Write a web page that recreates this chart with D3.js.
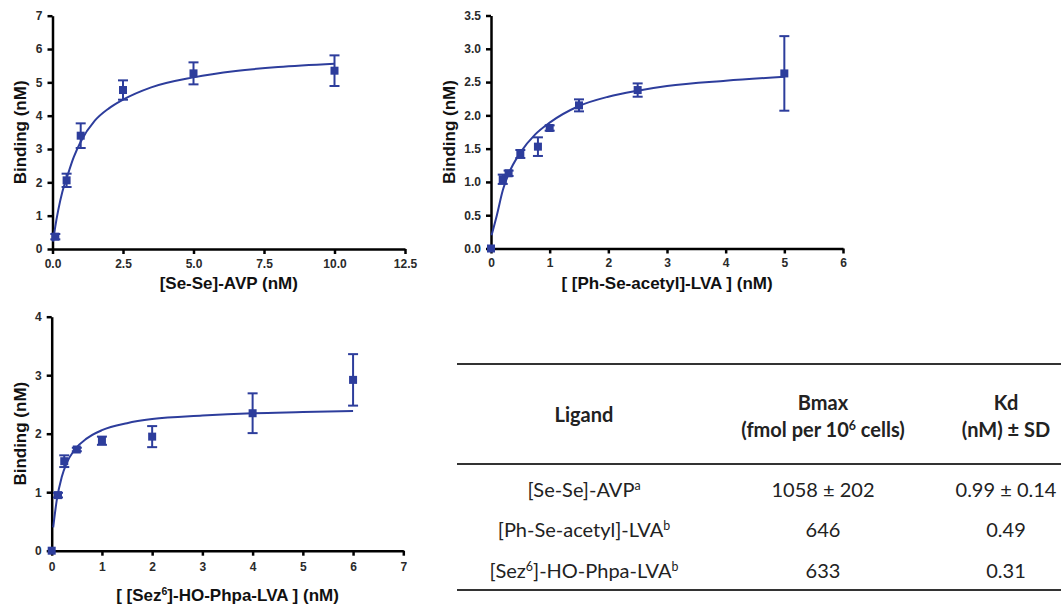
<!DOCTYPE html>
<html>
<head>
<meta charset="utf-8">
<script src="https://cdn.jsdelivr.net/npm/d3@7"></script>
<style>
  body { margin: 0; background: #fff; }
  svg { display: block; }
  .tick text { font-family: "Liberation Sans", Arial, sans-serif; font-weight: bold; font-size: 12px; fill: #2a2a2a; }
  .axis-title { font-family: "Liberation Sans", Arial, sans-serif; font-weight: bold; font-size: 17px; fill: #111; }
  .tbl { font-family: Lato, "Open Sans", sans-serif; font-size: 20px; fill: #222; }
  .tbl.head { font-weight: bold; }
</style>
</head>
<body>
<div id="chart"></div>
<script>
// panel 1: [Se-Se]-AVP
const seX = [0.1, 0.5, 1, 2.5, 5, 10];
const seY = [0.37, 2.06, 3.4, 4.77, 5.27, 5.35];
const seSd = [0.08, 0.2, 0.37, 0.29, 0.33, 0.46];
const seFitX = [0.02, 0.1, 0.2, 0.35, 0.5, 0.75, 1, 1.5, 2, 2.5, 3.5, 5, 6.5, 8, 10];
const seFitY = [0.22, 0.68, 1.15, 1.72, 2.12, 2.75, 3.22, 3.85, 4.22, 4.48, 4.85, 5.15, 5.34, 5.46, 5.56];
const seXTicks = [0, 2.5, 5, 7.5, 10, 12.5];
const seYTicks = [0, 1, 2, 3, 4, 5, 6, 7];

// panel 2: [Ph-Se-acetyl]-LVA
const phX = [0, 0.2, 0.3, 0.5, 0.8, 1, 1.5, 2.5, 5];
const phY = [0, 1.04, 1.13, 1.42, 1.53, 1.81, 2.15, 2.38, 2.63];
const phSd = [0, 0.07, 0.04, 0.06, 0.14, 0.04, 0.09, 0.1, 0.56];
const phFitX = [0.01, 0.1, 0.2, 0.3, 0.5, 0.75, 1, 1.5, 2, 2.5, 3, 4, 5];
const phFitY = [0.2, 0.5, 0.87, 1.12, 1.44, 1.71, 1.89, 2.14, 2.28, 2.37, 2.44, 2.52, 2.58];
const phXTicks = [0, 1, 2, 3, 4, 5, 6];
const phYTicks = [0, 0.5, 1, 1.5, 2, 2.5, 3, 3.5];

// panel 3: [Sez6]-HO-Phpa-LVA
const szX = [0, 0.125, 0.25, 0.5, 1, 2, 4, 6];
const szY = [0, 0.95, 1.53, 1.73, 1.88, 1.95, 2.35, 2.92];
const szSd = [0, 0.04, 0.1, 0.03, 0.07, 0.18, 0.34, 0.44];
const szFitX = [0.03, 0.1, 0.2, 0.3, 0.45, 0.7, 1, 1.5, 2, 3, 4, 5, 6];
const szFitY = [0.4, 0.86, 1.26, 1.5, 1.72, 1.92, 2.06, 2.18, 2.25, 2.31, 2.35, 2.37, 2.39];
const szXTicks = [0, 1, 2, 3, 4, 5, 6, 7];
const szYTicks = [0, 1, 2, 3, 4];

// table
const tableHeads = ["Ligand", "Bmax", "Kd"];
const tableSubHeads = ["", "(fmol per 10|6| cells)", "(nM) ± SD"];
const ligands = ["[Se-Se]-AVP|a|", "[Ph-Se-acetyl]-LVA|b|", "[Sez|6|]-HO-Phpa-LVA|b|"];
const bmax = ["1058 ± 202", "646", "633"];
const kd = ["0.99 ± 0.14", "0.49", "0.31"];

const W = 1061, H = 607;
const blue = "#2d3d9c";

const svg = d3.select("#chart").append("svg").attr("width", W).attr("height", H);

// text with |sup| segments
function richText(sel, str) {
  str.split("|").forEach((part, i) => {
    if (!part) return;
    const t = sel.append("tspan").text(part);
    if (i % 2 === 1) t.attr("font-size", "0.62em").attr("dy", "-0.55em");
    else if (i > 0) t.attr("dy", "0.34em");
  });
}

function drawPanel(p) {
  const g = svg.append("g");
  const x = d3.scaleLinear().domain(p.xDomain).range(p.xRange);
  const y = d3.scaleLinear().domain(p.yDomain).range(p.yRange);

  const xAxis = g.append("g")
    .attr("transform", `translate(0,${p.yRange[0]})`)
    .call(d3.axisBottom(x).tickValues(p.xTicks).tickFormat(d3.format(p.xFmt))
      .tickSize(5).tickSizeOuter(0).tickPadding(p.xPad));
  const yAxis = g.append("g")
    .attr("transform", `translate(${p.xRange[0]},0)`)
    .call(d3.axisLeft(y).tickValues(p.yTicks).tickFormat(d3.format(p.yFmt))
      .tickSize(5).tickSizeOuter(0).tickPadding(5));
  [xAxis, yAxis].forEach(a => {
    a.select(".domain").attr("stroke", "#000").attr("stroke-width", 2.5);
    a.selectAll(".tick line").attr("stroke", "#000").attr("stroke-width", 2.5);
  });

  const xt = g.append("text").attr("class", "axis-title")
    .attr("x", (p.xRange[0] + p.xRange[1]) / 2)
    .attr("y", p.yRange[0] + p.titleGap)
    .attr("text-anchor", "middle");
  richText(xt, p.xTitle);

  g.append("text").attr("class", "axis-title")
    .attr("transform", `translate(${p.yTitleX},${(p.yRange[0] + p.yRange[1]) / 2}) rotate(-90)`)
    .attr("text-anchor", "middle")
    .text("Binding (nM)");

  const fit = p.fitX.map((v, i) => [v, p.fitY[i]]);
  g.append("path")
    .datum(fit)
    .attr("fill", "none")
    .attr("stroke", blue)
    .attr("stroke-width", 2)
    .attr("d", d3.line().x(d => x(d[0])).y(d => y(d[1])).curve(d3.curveMonotoneX));

  const pts = p.xs.map((v, i) => ({ x: v, y: p.ys[i], sd: p.sd[i] }));
  const err = g.append("g").attr("stroke", blue).attr("stroke-width", 2)
    .selectAll("g").data(pts.filter(d => d.sd > 0)).join("g");
  err.append("line")
    .attr("x1", d => x(d.x)).attr("x2", d => x(d.x))
    .attr("y1", d => y(d.y - d.sd)).attr("y2", d => y(d.y + d.sd));
  [-1, 1].forEach(s => {
    err.append("line")
      .attr("x1", d => x(d.x) - 5).attr("x2", d => x(d.x) + 5)
      .attr("y1", d => y(d.y + s * d.sd)).attr("y2", d => y(d.y + s * d.sd));
  });

  g.append("g").selectAll("rect").data(pts).join("rect")
    .attr("x", d => x(d.x) - 4)
    .attr("y", d => y(d.y) - 4)
    .attr("width", 8).attr("height", 8)
    .attr("fill", blue);
}

drawPanel({
  xs: seX, ys: seY, sd: seSd, fitX: seFitX, fitY: seFitY,
  xDomain: [0, 12.5], yDomain: [0, 7], xRange: [52.5, 405], yRange: [249, 15.7],
  xTicks: seXTicks, yTicks: seYTicks, xFmt: ".1f", yFmt: "d",
  xPad: 5, titleGap: 40, yTitleX: 26,
  xTitle: "[Se-Se]-AVP (nM)"
});
drawPanel({
  xs: phX, ys: phY, sd: phSd, fitX: phFitX, fitY: phFitY,
  xDomain: [0, 6], yDomain: [0, 3.5], xRange: [491, 843], yRange: [248.5, 15.5],
  xTicks: phXTicks, yTicks: phYTicks, xFmt: "d", yFmt: ".1f",
  xPad: 5, titleGap: 40, yTitleX: 454.5,
  xTitle: "[ [Ph-Se-acetyl]-LVA ] (nM)"
});
drawPanel({
  xs: szX, ys: szY, sd: szSd, fitX: szFitX, fitY: szFitY,
  xDomain: [0, 7], yDomain: [0, 4], xRange: [51.7, 403.3], yRange: [550.7, 316.7],
  xTicks: szXTicks, yTicks: szYTicks, xFmt: "d", yFmt: "d",
  xPad: 7, titleGap: 50, yTitleX: 26,
  xTitle: "[ [Sez|6|]-HO-Phpa-LVA ] (nM)"
});

// table
const colX = [584, 823, 1006];
const tbl = svg.append("g");
[364, 464, 590].forEach(ly => {
  tbl.append("line").attr("x1", 457).attr("x2", W).attr("y1", ly).attr("y2", ly)
    .attr("stroke", "#333").attr("stroke-width", 2);
});
tableHeads.forEach((h, i) => {
  tbl.append("text").attr("class", "tbl head")
    .attr("x", colX[i]).attr("y", i === 0 ? 422 : 410)
    .attr("text-anchor", "middle").text(h);
  if (tableSubHeads[i]) {
    const t = tbl.append("text").attr("class", "tbl head")
      .attr("x", colX[i]).attr("y", 437).attr("text-anchor", "middle");
    richText(t, tableSubHeads[i]);
  }
});
const rowY = [490, 530, 571];
ligands.forEach((lg, r) => {
  const t = tbl.append("text").attr("class", "tbl")
    .attr("x", colX[0]).attr("y", rowY[r] + 7).attr("text-anchor", "middle");
  richText(t, lg);
  tbl.append("text").attr("class", "tbl")
    .attr("x", colX[1]).attr("y", rowY[r] + 7).attr("text-anchor", "middle").text(bmax[r]);
  tbl.append("text").attr("class", "tbl")
    .attr("x", colX[2]).attr("y", rowY[r] + 7).attr("text-anchor", "middle").text(kd[r]);
});
</script>
</body>
</html>
